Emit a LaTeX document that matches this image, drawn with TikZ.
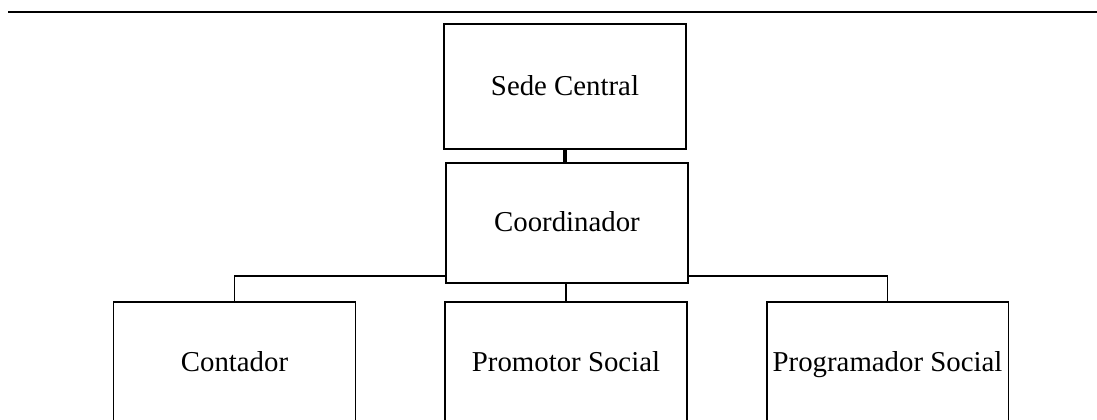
\documentclass[tikz,border=0pt]{standalone}
\usepackage{fontspec}
\setmainfont{Liberation Serif}

\begin{document}
\begin{tikzpicture}[x=0.02cm, y=-0.02cm]
\tikzset{caixa/.style={draw, fill=white, line width=1.1pt, inner sep=0pt, minimum width=4.84cm, text height=12.6pt, text depth=2.4pt, font=\fontsize{16.4}{19}\selectfont}}
\clip (0, 0) rectangle (1097, 419);
\draw[line width=1.1pt] (8, 12) -- (1097, 12);
\node[caixa, minimum height=2.5cm] (Sede) at (565, 86.5) {Sede Central};
\node[caixa, minimum height=2.4cm] (Coord) at (567, 223) {Coordinador};
\node[caixa, minimum height=2.44cm] (Contador) at (234.5, 363) {Contador};
\node[caixa, minimum height=2.44cm] (Promotor) at (566, 363) {Promotor Social};
\node[caixa, minimum height=2.44cm] (Programador) at (887.5, 363) {Programador Social};
\coordinate (bus) at (566, 276);
\draw[line width=2.2pt] (Sede.south) -- (Sede.south |- Coord.north);
\draw[line width=1.1pt] (Contador.north) |- (bus -| Coord.west);
\draw[line width=1.1pt] (Programador.north) |- (bus -| Coord.east);
\draw[line width=1.1pt] (Promotor.north) -- (Promotor.north |- Coord.south);
\end{tikzpicture}
\end{document}
